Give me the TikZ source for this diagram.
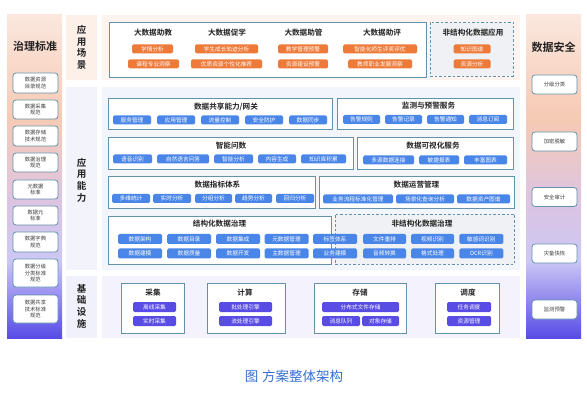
\documentclass[tikz,border=0pt]{standalone}
\usepackage{fontspec}
\setmainfont{Noto Sans CJK SC}[BoldFont={Noto Sans CJK SC Bold}]
\definecolor{orng}{RGB}{238,122,57}
\definecolor{bluc}{RGB}{74,134,232}
\definecolor{purc}{RGB}{88,76,228}
\definecolor{pbord}{RGB}{100,145,172}
\definecolor{dfill}{RGB}{240,241,244}
\definecolor{bgPl}{RGB}{253,240,233}
\definecolor{bgPc}{RGB}{253,244,240}
\definecolor{bgAl}{RGB}{243,243,251}
\definecolor{bgAc}{RGB}{242,245,251}
\definecolor{bgIl}{RGB}{241,241,252}
\definecolor{bgIc}{RGB}{243,242,253}
\definecolor{ttl}{RGB}{34,34,34}
\definecolor{sidetxt}{RGB}{60,60,60}
\definecolor{capc}{RGB}{52,110,210}
\definecolor{sgA}{RGB}{251,231,222}
\definecolor{sgB}{RGB}{246,202,180}
\definecolor{sgC}{RGB}{220,196,226}
\definecolor{sgD}{RGB}{204,199,245}
\definecolor{sgE}{RGB}{88,76,230}
\pgfdeclareverticalshading{sidegrad}{100bp}{color(0bp)=(sgE); color(25bp)=(sgE); color(37bp)=(sgD); color(46bp)=(sgC); color(59bp)=(sgB); color(75bp)=(sgA); color(100bp)=(sgA)}
\newcommand\mkbox[6]{\node[#1, minimum width={(#4)-(#2)}, minimum height={(#5)-(#3)}] (#6) at ({((#2)+(#4))/2},{((#3)+(#5))/2}) {};}
\begin{document}
\begin{tikzpicture}[x=1pt,y=-1pt,
  every node/.style={inner sep=0pt, outer sep=0pt},
  panel/.style={draw=pbord, fill=white, line width=0.8pt},
  dpanel/.style={draw=pbord, fill=dfill, line width=0.8pt, dash pattern=on 2.5pt off 2pt},
  chip/.style={rounded corners=1.5pt, minimum height=9, text=white, font=\fontsize{5.7}{6}\selectfont},
  chipO/.style={chip, fill=orng},
  chipB/.style={chip, fill=bluc},
  chipP/.style={chip, fill=purc, minimum height=10},
  chipG/.style={chipB, minimum height=10},
  head/.style={text=ttl, font=\fontsize{7.6}{8}\selectfont\bfseries},
  vlab/.style={text=ttl, align=center, font=\fontsize{9.5}{11.6}\selectfont\bfseries},
  sidecol/.style={shade, shading=sidegrad},
  sidetitle/.style={text=ttl, font=\fontsize{11}{12}\selectfont\bfseries},
  sidechip/.style={draw=pbord, fill=white, line width=0.8pt, rounded corners=3pt, minimum width=45, align=center, text=sidetxt, font=\fontsize{5.3}{6.5}\selectfont}
]
\useasboundingbox (0,0) rectangle (587,401);
% side columns
\mkbox{sidecol}{7}{15}{62}{338}{L}
\mkbox{sidecol}{526}{15}{581}{338}{R}
\node[sidetitle] (Lt) at (35,46) {治理标准};
\node[sidetitle] (Rt) at (553.5,47) {数据安全};
\node[sidechip, minimum height=20] (l1) at (35.5,83) {数据资源\\目录规范};
\node[sidechip, minimum height=19] (l2) at (35.5,109.5) {数据采集\\规范};
\node[sidechip, minimum height=20] (l3) at (35.5,136) {数据存储\\技术规范};
\node[sidechip, minimum height=19] (l4) at (35.5,162.5) {数据治理\\规范};
\node[sidechip, minimum height=19] (l5) at (35.5,189.5) {元数据\\标准};
\node[sidechip, minimum height=19] (l6) at (35.5,215.5) {数据元\\标准};
\node[sidechip, minimum height=20] (l7) at (35.5,242) {数据字典\\规范};
\node[sidechip, minimum height=28] (l8) at (35.5,273) {数据分级\\分类标准\\规范};
\node[sidechip, minimum height=28] (l9) at (35.5,309) {数据共享\\技术标准\\规范};
\node[sidechip, minimum height=19] (r1) at (554.5,84.5) {分级分类};
\node[sidechip, minimum height=19] (r2) at (554.5,141.5) {加密脱敏};
\node[sidechip, minimum height=19] (r3) at (554.5,197) {安全审计};
\node[sidechip, minimum height=19] (r4) at (554.5,253.5) {灾备快恢};
\node[sidechip, minimum height=19] (r5) at (554.5,309.5) {监测预警};
% section backgrounds
\mkbox{fill=bgPl}{66}{15}{97}{80}{sLab}
\mkbox{fill=bgPc}{102}{15}{520}{80}{sCon}
\mkbox{fill=bgAl}{66}{87}{97}{270}{aLab}
\mkbox{fill=bgAc}{102}{87}{520}{270}{aCon}
\mkbox{fill=bgIl}{66}{276}{97}{338}{iLab}
\mkbox{fill=bgIc}{102}{276}{520}{338}{iCon}
\node[vlab] (sLt) at (81.5,47.5) {应\\用\\场\\景};
\node[vlab] (aLt) at (81.5,180) {应\\用\\能\\力};
\node[vlab] (iLt) at (81.5,306) {基\\础\\设\\施};
% scenarios
\mkbox{panel}{109}{22}{426}{77}{ps}
\mkbox{dpanel}{430}{22}{513}{76}{pd}
\node[head] (h1) at (153,33) {大数据助教};
\node[head] (h2) at (227,33) {大数据促学};
\node[head] (h3) at (303.5,33) {大数据助管};
\node[head] (h4) at (382,33) {大数据助评};
\node[head] (h5) at (473,33) {非结构化数据应用};
\node[chipO, minimum width=41] (o1) at (152.5,49) {学情分析};
\node[chipO, minimum width=51] (o2) at (153.5,64) {课程专业洞察};
\node[chipO, minimum width=63] (o3) at (226.5,49) {学生成长轨迹分析};
\node[chipO, minimum width=71] (o4) at (226.5,64) {优质资源个性化推荐};
\node[chipO, minimum width=50] (o5) at (303,49) {教学管理预警};
\node[chipO, minimum width=50] (o6) at (303,64) {资源建设预警};
\node[chipO, minimum width=74] (o7) at (380,49) {智能化师生评奖评优};
\node[chipO, minimum width=64] (o8) at (380,64) {教师职业发展洞察};
\node[chipO, minimum width=37] (o9) at (472,49) {知识图谱};
\node[chipO, minimum width=37] (o10) at (472,64) {资源分析};
% capability panels
\mkbox{panel}{108}{98}{332}{129}{pA}
\node[head] (tA) at (226,107) {数据共享能力/网关};
\node[chipB, minimum width=38] (a1) at (132,120) {服务管理};
\node[chipB, minimum width=38] (a2) at (176,120) {应用管理};
\node[chipB, minimum width=38] (a3) at (220,120) {流量控制};
\node[chipB, minimum width=38] (a4) at (264,120) {安全防护};
\node[chipB, minimum width=38] (a5) at (308,120) {数据同步};
\mkbox{panel}{337}{98}{513}{129}{pB}
\node[head] (tB) at (428.5,106) {监测与预警服务};
\node[chipB, minimum width=37] (b1) at (361.5,119.5) {告警规则};
\node[chipB, minimum width=37] (b2) at (403.5,119.5) {告警记录};
\node[chipB, minimum width=37] (b3) at (445.5,119.5) {告警通知};
\node[chipB, minimum width=38] (b4) at (488,119.5) {消息订阅};
\mkbox{panel}{108}{137}{353}{169}{pC}
\node[head] (tC) at (231,145.5) {智能问数};
\node[chipB, minimum width=39] (c1) at (132.5,159) {语音识别};
\node[chipB, minimum width=52] (c2) at (183,159) {自然语言问答};
\node[chipB, minimum width=39] (c3) at (233.5,159) {智能分析};
\node[chipB, minimum width=38] (c4) at (277,159) {内容生成};
\node[chipB, minimum width=45] (c5) at (323.5,159) {知识库积累};
\mkbox{panel}{357}{137}{513}{169}{pD}
\node[head] (tD) at (433,146) {数据可视化服务};
\node[chipB, minimum width=51] (d1) at (388.5,160) {多源数据连接};
\node[chipB, minimum width=40] (d2) at (439,160) {敏捷报表};
\node[chipB, minimum width=43] (d3) at (485.5,160) {丰富图表};
\mkbox{panel}{108}{176}{315}{208}{pE}
\node[head] (tE) at (217.5,185) {数据指标体系};
\node[chipB, minimum width=38] (e1) at (131,198.5) {多维统计};
\node[chipB, minimum width=38] (e2) at (172,198.5) {实时分析};
\node[chipB, minimum width=37] (e3) at (213.5,198.5) {分组分析};
\node[chipB, minimum width=37] (e4) at (253.5,198.5) {趋势分析};
\node[chipB, minimum width=38] (e5) at (295,198.5) {回归分析};
\mkbox{panel}{319}{176}{514}{208}{pF}
\node[head] (tF) at (416.5,185) {数据运营管理};
\node[chipB, minimum width=70] (f1) at (358,199) {业务流程标准化管理};
\node[chipB, minimum width=58] (f2) at (425,199) {场景化查询分析};
\node[chipB, minimum width=53] (f3) at (483.5,199) {数据资产图谱};
\mkbox{panel}{108}{216}{331}{264}{pG}
\mkbox{dpanel}{335}{214}{514}{264}{pH}
\node[head] (tG) at (219.5,223.5) {结构化数据治理};
\node[head] (tH) at (422,223.5) {非结构化数据治理};
\node[chipG, minimum width=44] (g1) at (140,239) {数据架构};
\node[chipG, minimum width=44] (g2) at (189,239) {数据目录};
\node[chipG, minimum width=44] (g3) at (238,239) {数据集成};
\node[chipG, minimum width=44] (g4) at (286.5,239) {元数据管理};
\node[chipG, minimum width=44] (g5) at (335,239) {标签体系};
\node[chipG, minimum width=44] (g6) at (140,253.5) {数据建模};
\node[chipG, minimum width=44] (g7) at (189,253.5) {数据质量};
\node[chipG, minimum width=44] (g8) at (238,253.5) {数据开发};
\node[chipG, minimum width=44] (g9) at (286.5,253.5) {主数据管理};
\node[chipG, minimum width=44] (g10) at (335,253.5) {业务建模};
\node[chipG, minimum width=43] (k1) at (384.5,239) {文件重排};
\node[chipG, minimum width=43] (k2) at (432.5,239) {视频识别};
\node[chipG, minimum width=44] (k3) at (481.3,239) {敏感词识别};
\node[chipG, minimum width=43] (k4) at (384.5,253.5) {音频转换};
\node[chipG, minimum width=43] (k5) at (432.5,253.5) {格式处理};
\node[chipG, minimum width=44] (k6) at (481.3,253.5) {OCR识别};
% infrastructure
\mkbox{panel}{121}{283}{184}{333}{pI1}
\mkbox{panel}{207}{283}{285}{333}{pI2}
\mkbox{panel}{314}{283}{406}{333}{pI3}
\mkbox{panel}{435}{283}{499}{333}{pI4}
\node[head] (ti1) at (153,293) {采集};
\node[head] (ti2) at (245,293) {计算};
\node[head] (ti3) at (360,293) {存储};
\node[head] (ti4) at (468,293) {调度};
\node[chipP, minimum width=43] (i1) at (154.5,307) {离线采集};
\node[chipP, minimum width=43] (i2) at (154.5,321) {实时采集};
\node[chipP, minimum width=53] (i3) at (245.5,307) {批处理引擎};
\node[chipP, minimum width=53] (i4) at (245.5,321) {流处理引擎};
\node[chipP, minimum width=77] (i5) at (360.5,307) {分布式文件存储};
\node[chipP, minimum width=38] (i6) at (341,321) {消息队列};
\node[chipP, minimum width=37] (i7) at (380.5,321) {对象存储};
\node[chipP, minimum width=44] (i8) at (469,307) {任务调度};
\node[chipP, minimum width=44] (i9) at (469,321) {资源管理};
% caption
\node[text=capc, font=\fontsize{13.5}{15}\selectfont] (cap) at (294,376) {图\hspace{4pt}方案整体架构};
\end{tikzpicture}
\end{document}
